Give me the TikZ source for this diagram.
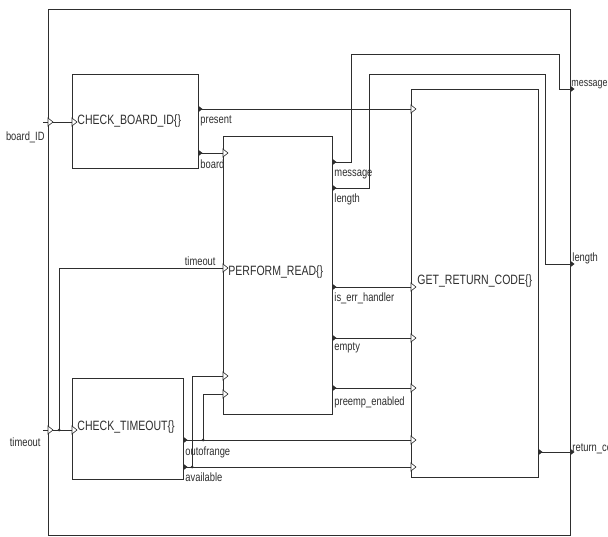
\documentclass[tikz,border=0pt]{standalone}
\usepackage{fontspec}
\setmainfont{Liberation Sans}
\newfontfamily\narrowfont{Liberation Sans}[FakeStretch=0.78]
\begin{document}
\begin{tikzpicture}[x=1pt,y=-1pt,line width=0.9pt,color=black!82,
  blk/.style={draw,minimum width=10pt,minimum height=10pt,inner sep=0pt},
  boxlbl/.style={inner sep=0pt,font=\narrowfont\fontsize{13.5}{15}\selectfont},
  portlbl/.style={inner sep=0pt,font=\narrowfont\fontsize{12}{14}\selectfont},
  edgelbl/.style={inner sep=0pt,font=\narrowfont\fontsize{11.4}{13}\selectfont},
  inmark/.pic={\draw[fill=white,line width=0.6pt] (0,-4) -- (5,0) -- (0,4) -- cycle;},
  outmark/.pic={\fill (0,-3.5) -- (4.5,0) -- (0,3.5) -- cycle;},
  jdot/.style={fill,circle,inner sep=0pt,minimum size=3pt}]
\useasboundingbox (0,0) rectangle (608,537);
\clip (0,0) rectangle (608,537);
\fill[white] (0,0) rectangle (608,537);

% blocks
\node[blk,minimum width=522pt,minimum height=526pt] (frm) at (309,272) {};
\node[blk,minimum width=126pt,minimum height=94pt] (cb) at (135,121) {};
\node[blk,minimum width=109pt,minimum height=278pt] (pr) at (277.5,275) {};
\node[blk,minimum width=127pt,minimum height=388pt] (grc) at (474.5,283) {};
\node[blk,minimum width=111pt,minimum height=101pt] (ct) at (127.5,428.5) {};

% block labels
\node[boxlbl,anchor=base west] (cbl) at (77,125) {CHECK\_BOARD\_ID\{\}};
\node[boxlbl,anchor=base west] (prl) at (228,276) {PERFORM\_READ\{\}};
\node[boxlbl,anchor=base west] (grcl) at (417,285) {GET\_RETURN\_CODE\{\}};
\node[boxlbl,anchor=base west] (ctl) at (77,430) {CHECK\_TIMEOUT\{\}};

% port coordinates
\coordinate (bid-stub) at (43,122);
\coordinate (bid-port) at (48,122);
\coordinate (cb-in) at (72,122);
\coordinate (cb-pres) at (198,109);
\coordinate (cb-board) at (198,153);
\coordinate (grc-pres) at (411,109);
\coordinate (pr-board) at (223,153);
\coordinate (pr-msg) at (332,162);
\coordinate (pr-len) at (332,188);
\coordinate (m1) at (351,54);
\coordinate (m2) at (559,89);
\coordinate (out-msg) at (570,89);
\coordinate (l1) at (369,74);
\coordinate (l2) at (545,264);
\coordinate (out-len) at (570,264);
\coordinate (to-stub) at (43,430);
\coordinate (to-port) at (48,430);
\coordinate (ct-in) at (72,430);
\coordinate (pr-to) at (223,268);
\coordinate (pr-err) at (332,287);
\coordinate (pr-empty) at (332,338);
\coordinate (pr-pre) at (332,388);
\coordinate (grc-err) at (411,287);
\coordinate (grc-empty) at (411,338);
\coordinate (grc-pre) at (411,388);
\coordinate (pr-in1) at (223,376);
\coordinate (pr-in2) at (223,394);
\coordinate (ct-oor) at (183,440);
\coordinate (ct-av) at (183,467);
\coordinate (grc-oor) at (411,440);
\coordinate (grc-av) at (411,467);
\coordinate (grc-rc) at (538,452);
\coordinate (out-rc) at (570,452);

% junctions
\node[jdot] (jt) at (59,430) {};
\node[jdot] (joor) at (203,440) {};
\node[jdot] (jav) at (192,467) {};

% connectors
\draw (bid-stub) -- (cb-in);
\draw (cb-pres) -- (grc-pres);
\draw (cb-board) -- (pr-board);
\draw (pr-msg) -| (m1) -| (m2) -- (out-msg);
\draw (pr-len) -| (l1) -| (l2) -- (out-len);
\draw (to-stub) -- (ct-in);
\draw (jt.center) |- (pr-to);
\draw (pr-err) -- (grc-err);
\draw (pr-empty) -- (grc-empty);
\draw (pr-pre) -- (grc-pre);
\draw (ct-oor) -- (grc-oor);
\draw (ct-av) -- (grc-av);
\draw (joor.center) |- (pr-in2);
\draw (jav.center) |- (pr-in1);
\draw (grc-rc) -- (out-rc);

% port marks
\foreach \p in {bid-port,cb-in,grc-pres,pr-board,to-port,ct-in,pr-to,grc-err,grc-empty,grc-pre,pr-in1,pr-in2,grc-oor,grc-av}
  \pic at (\p) {inmark};
\foreach \p in {cb-pres,cb-board,pr-msg,pr-len,pr-err,pr-empty,pr-pre,ct-oor,ct-av,grc-rc,out-msg,out-len,out-rc}
  \pic at (\p) {outmark};

% port labels
\node[portlbl,anchor=base east] (l-bid) at (45,141) {board\_ID};
\node[portlbl,anchor=base east] (l-to) at (41,446) {timeout};
\node[portlbl,anchor=base west] (l-pres) at (200,124) {present};
\node[portlbl,anchor=base west] (l-board) at (200,169) {board};
\node[portlbl,anchor=base west] (l-msg) at (334,177) {message};
\node[portlbl,anchor=base west] (l-len) at (334,203) {length};
\node[portlbl,anchor=base east] (l-prto) at (216,266) {timeout};
\node[portlbl,anchor=base west] (l-err) at (334,302) {is\_err\_handler};
\node[portlbl,anchor=base west] (l-empty) at (334,351) {empty};
\node[portlbl,anchor=base west] (l-pre) at (334,406) {preemp\_enabled};
\node[portlbl,anchor=base west] (l-oor) at (185,455) {outofrange};
\node[portlbl,anchor=base west] (l-av) at (185,481) {available};
\node[edgelbl,anchor=base west] (l-omsg) at (571,87) {message};
\node[portlbl,anchor=base west] (l-olen) at (572,262) {length};
\node[portlbl,anchor=base west] (l-orc) at (572,451) {return\_code};
\end{tikzpicture}
\end{document}
